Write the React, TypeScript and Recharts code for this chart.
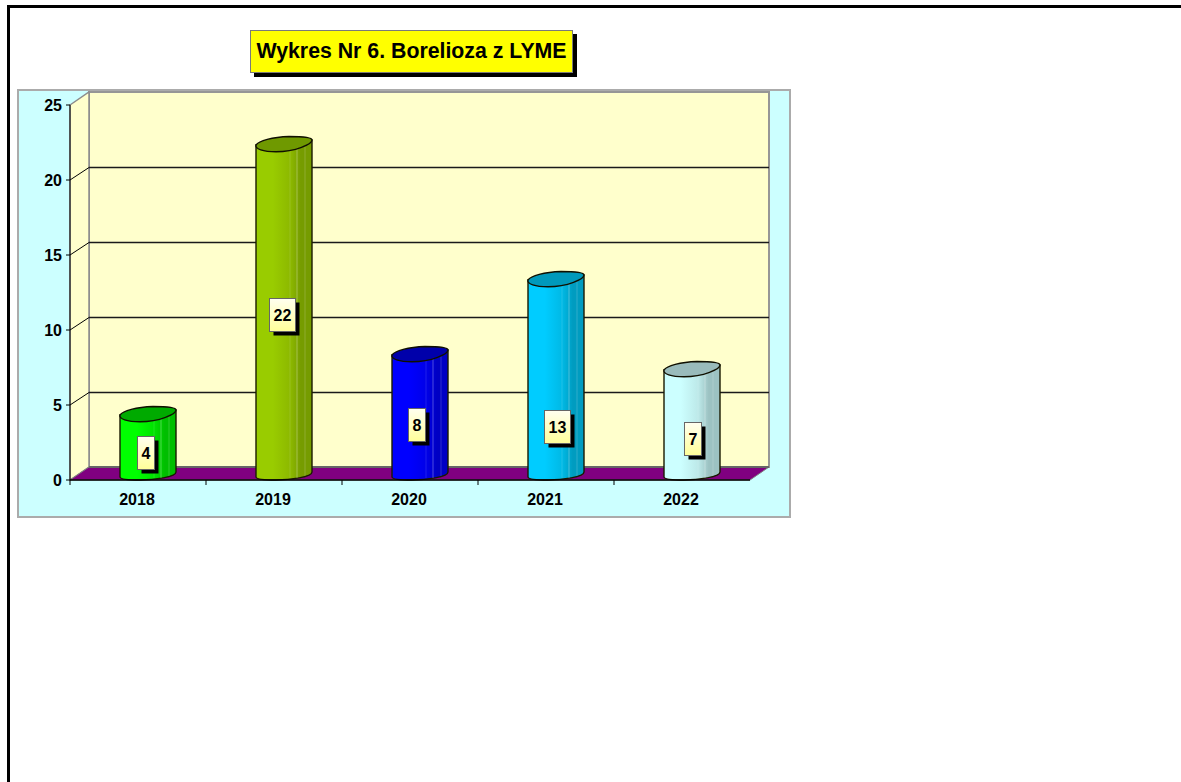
import React from "react";
import { BarChart, Bar, XAxis, YAxis, CartesianGrid, LabelList, usePlotArea } from "recharts";

const years = ["2018", "2019", "2020", "2021", "2022"];
const cases = [4, 22, 8, 13, 7];
const yTicks = [0, 5, 10, 15, 20, 25];
const titleText = "Wykres Nr 6. Borelioza z LYME";

const chartData = years.map((year, i) => ({ year, cases: cases[i] }));

// styling tables, separate from the data
const sideColors = [
  ["#00FF00", "#00E000", "#00BE00"],
  ["#99CC00", "#8CB800", "#769C00"],
  ["#0000FF", "#0000E8", "#0000C4"],
  ["#00CCFF", "#00B8E4", "#009CC0"],
  ["#CCFFFF", "#BCE8E8", "#9CC2C2"],
];
const topColors = ["#00AA00", "#6F9900", "#0000AA", "#0099BB", "#99BBBB"];
const labelShiftX = [-3, -2, -3.5, 1, 0];
const labelShiftY = [2.5, -1, 4.5, 44, 10.5];

const DX = 19;
const DY = -13;
const FONT = "'Liberation Sans', Arial, sans-serif";

function Walls() {
  const p = usePlotArea();
  if (!p) return null;
  const { x, y, width: w, height: h } = p;
  const r = x + w;
  const b = y + h;
  return (
    <g>
      <rect x={x + DX} y={y + DY} width={w} height={h} fill="#FFFFCC" stroke="#969696" strokeWidth={2} />
      <polygon points={`${x},${y} ${x + DX},${y + DY} ${x + DX},${b + DY} ${x},${b}`} fill="#FFFFCC" stroke="#8C8C8C" strokeWidth={1.5} />
      <polygon points={`${x},${b} ${x + DX},${b + DY} ${r + DX},${b + DY} ${r},${b}`} fill="#800080" stroke="#808080" strokeWidth={1} />
      <line x1={x + DX} y1={b + DY} x2={r + DX} y2={b + DY} stroke="#666666" strokeWidth={2} />
    </g>
  );
}

function wallLine(props: any) {
  return props.index === 0 ? <Walls key="walls" /> : <g key={props.key} />;
}

function gridLine(props: any) {
  const { x1, x2, y1, y2, key } = props;
  if (y1 == null || Math.round(y1) >= 480 || Math.round(y1) <= 105) return <g key={key} />;
  return (
    <g key={key}>
      <line x1={x1} y1={y1} x2={x1 + DX} y2={y1 + DY + 0.5} stroke="#000" strokeWidth={1} />
      <line x1={x1 + DX} y1={y1 + DY + 0.5} x2={x2 + DX} y2={y2 + DY + 0.5} stroke="#1A1A1A" strokeWidth={1.4} />
    </g>
  );
}

function Cylinder(props: any) {
  const { x, y, width: w, height: h, index } = props;
  const l = x + 10;
  const bottom = y + h;
  const id = `cyl${index}`;
  const [a, c, d] = sideColors[index];
  const body =
    `M${l},${y - 5} L${l},${bottom - 3} C${l},${bottom - 1} ${l + 8},${bottom} ${l + 20},${bottom} ` +
    `C${l + 34},${bottom} ${l + w},${bottom - 3} ${l + w},${bottom - 8} L${l + w},${y - 10} Z`;
  const top =
    `M${l},${y - 5} C${l + 3},${y - 9} ${l + 16},${y - 13} ${l + 33},${y - 13.5} ` +
    `C${l + 44},${y - 13.5} ${l + w},${y - 13} ${l + w},${y - 10} ` +
    `C${l + w},${y - 6} ${l + 40},${y + 1.7} ${l + 20},${y + 1.8} ` +
    `C${l + 7},${y + 1.8} ${l - 1},${y - 1} ${l},${y - 5} Z`;
  return (
    <g>
      <defs>
        <linearGradient id={id} x1="0" x2="1" y1="0" y2="0">
          <stop offset="0" stopColor={a} />
          <stop offset="0.3" stopColor={a} />
          <stop offset="0.62" stopColor={c} />
          <stop offset="0.8" stopColor={d} />
          <stop offset="1" stopColor={d} />
        </linearGradient>
      </defs>
      <path d={body} fill={`url(#${id})`} stroke="#1A1A00" strokeWidth={1.4} />
      <line x1={l + 34} y1={y} x2={l + 34} y2={bottom - 2} stroke="#FFFFFF" strokeOpacity={0.12} />
      <line x1={l + 41} y1={y - 2} x2={l + 41} y2={bottom - 2} stroke="#FFFFFF" strokeOpacity={0.3} />
      <line x1={l + 49} y1={y - 4} x2={l + 49} y2={bottom - 4} stroke="#FFFFFF" strokeOpacity={0.18} />
      <path d={top} fill={topColors[index]} stroke="#101000" strokeWidth={1.4} />
    </g>
  );
}

function ValueBox(props: any) {
  const { x, y, width: w, height: h, value, index } = props;
  const text = String(value);
  const boxW = text.length > 1 ? 26 : 17;
  const cx = x + 10 + w / 2 + labelShiftX[index];
  const cy = y + h / 2 + labelShiftY[index];
  const bx = Math.round(cx - boxW / 2) + 0.5;
  const by = Math.round(cy - 16.5) + 0.5;
  return (
    <g>
      <rect x={bx + 4} y={by + 4} width={boxW} height={33} fill="#000" />
      <rect x={bx} y={by} width={boxW} height={33} fill="url(#labelFill)" stroke="#666" strokeWidth={1} />
      <text x={bx + boxW / 2} y={by + 22} textAnchor="middle" fontFamily={FONT} fontWeight="bold" fontSize={16} fill="#000">
        {text}
      </text>
    </g>
  );
}

function YearTick(props: any) {
  const { x, y, payload } = props;
  const band = 136;
  return (
    <g>
      <line x1={x - band / 2} y1={y - 8} x2={x - band / 2} y2={y - 3} stroke="#000" />
      <text x={x - 1} y={y + 17} textAnchor="middle" fontFamily={FONT} fontWeight="bold" fontSize={16} fill="#000">
        {payload.value}
      </text>
    </g>
  );
}

export default function App() {
  return (
    <div style={{ position: "absolute", left: 0, top: 0, width: 1181, height: 782, overflow: "hidden", background: "#fff" }}>
      <div style={{ position: "absolute", left: 7, top: 5, width: 1174, height: 3, background: "#000" }} />
      <div style={{ position: "absolute", left: 7, top: 5, width: 3, height: 777, background: "#000" }} />
      <div
        style={{
          position: "absolute",
          left: 17,
          top: 89,
          width: 770,
          height: 425,
          background: "#CCFFFF",
          border: "2px solid #ABABAB",
        }}
      />
      <div
        style={{
          position: "absolute",
          left: 250,
          top: 30,
          width: 321,
          height: 41,
          background: "#FFFF00",
          border: "1px solid #7A7A7A",
          boxShadow: "4px 4px 0 #000",
          fontFamily: FONT,
          fontWeight: "bold",
          fontSize: 21.3,
          lineHeight: "41px",
          textAlign: "center",
          color: "#000",
          whiteSpace: "nowrap",
        }}
      >
        {titleText}
      </div>
      <div style={{ position: "absolute", left: 0, top: 0 }}>
        <BarChart
          width={1181}
          height={782}
          data={chartData}
          margin={{ top: 105, right: 431, bottom: 0, left: 0 }}
          barCategoryGap={0}
          style={{ background: "transparent" }}
        >
          <defs>
            <linearGradient id="labelFill" x1="0" x2="0" y1="0" y2="1">
              <stop offset="0" stopColor="#FFFFF0" />
              <stop offset="1" stopColor="#FFFF99" />
            </linearGradient>
          </defs>
          <CartesianGrid vertical={false} horizontal={wallLine} />
          <CartesianGrid vertical={false} horizontal={gridLine} />
          <XAxis
            dataKey="year"
            height={302}
            interval={0}
            axisLine={{ stroke: "#000", strokeWidth: 1.5 }}
            tickLine={false}
            tick={<YearTick />}
          />
          <YAxis
            width={70}
            domain={[0, 25]}
            ticks={yTicks}
            interval={0}
            tickSize={4}
            tickMargin={4}
            axisLine={{ stroke: "#000" }}
            tickLine={{ stroke: "#000" }}
            tick={{ fontFamily: FONT, fontWeight: "bold", fontSize: 16, fill: "#000" }}
          />
          <Bar dataKey="cases" barSize={56} shape={<Cylinder />} isAnimationActive={false}>
            <LabelList dataKey="cases" content={<ValueBox />} />
          </Bar>
        </BarChart>
      </div>
    </div>
  );
}
